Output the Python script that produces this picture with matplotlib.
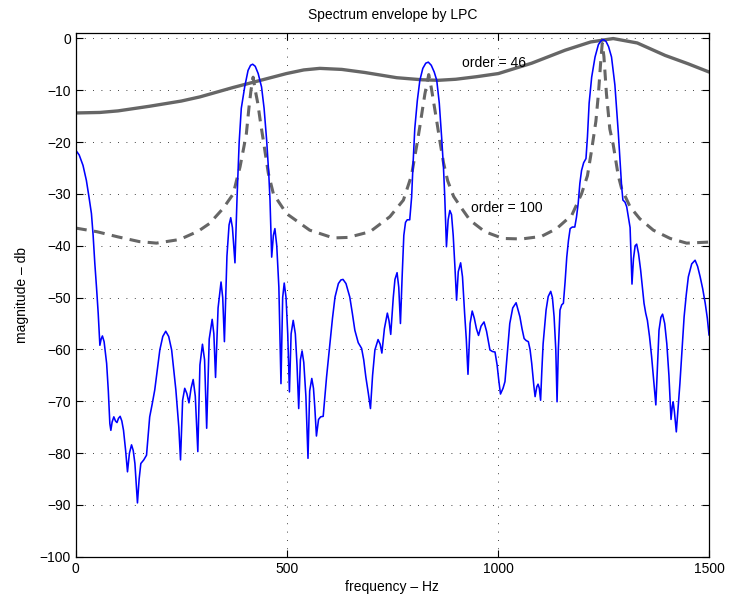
import numpy as np
import matplotlib
matplotlib.use("Agg")
import matplotlib.pyplot as plt

plt.rcParams['font.family'] = ['Liberation Sans', 'DejaVu Sans']

# spectrum (blue)
freq = [0, 8, 17, 25, 31, 37, 41, 45, 49, 53, 57, 60, 63, 67, 73, 77, 80.6, 83, 86, 90,
        94, 97.5, 101, 105, 109, 113, 118, 122.4, 127, 132, 136, 140, 146, 150, 154, 161,
        167.5, 171, 175, 181, 187, 193, 199, 206, 213, 220, 227, 237, 244, 248, 253, 258,
        263, 268, 273, 278, 283, 289, 294, 300, 305, 310, 316, 323, 327, 331, 337, 344,
        348, 352, 358, 363, 367, 371, 377, 382, 387, 392, 400, 408, 414, 419, 425, 432,
        440, 446, 452, 457, 460, 464, 468, 471.6, 476, 481, 486, 490, 493.7, 498, 502,
        506, 510, 515, 520, 524, 528, 532, 536, 540, 545, 550, 554, 559, 563, 566, 570,
        575, 580, 586, 590, 594, 602, 608, 614, 622, 628, 633, 640, 649, 655, 661, 669,
        677, 682, 687, 693, 698, 703, 708.5, 716, 721, 725, 731, 738, 742, 746, 752, 756,
        761, 765, 769, 773, 777, 781, 785, 791, 795.5, 799, 803, 809, 815, 822, 829, 835,
        842, 849, 855, 861, 867, 871, 874, 878, 882, 886, 890, 894, 898, 902, 906, 911.6,
        916, 921, 925, 929, 934, 939, 944, 949, 954, 960, 967, 973, 981, 987, 993, 998,
        1002, 1006, 1012, 1016.6, 1022, 1028, 1035, 1043, 1052, 1057, 1062, 1067, 1072,
        1076, 1080, 1085, 1088, 1092, 1095, 1098, 1101, 1104, 1107, 1114, 1119, 1125,
        1129, 1133, 1137, 1140, 1143, 1147, 1151, 1155, 1159, 1163, 1167, 1171, 1176,
        1182, 1186, 1190, 1194, 1198, 1203, 1208.5, 1212, 1216, 1222, 1230, 1238, 1245,
        1250, 1256, 1262, 1269, 1277, 1285, 1290, 1293, 1296, 1301, 1305, 1309, 1313,
        1317.5, 1321, 1325, 1328.6, 1333, 1338, 1342, 1346, 1350, 1354, 1359, 1364, 1369,
        1374, 1378, 1381.5, 1386, 1390, 1395, 1400, 1405, 1410, 1413, 1415, 1418, 1422.5,
        1427, 1431, 1436, 1441, 1446, 1451, 1459, 1467, 1473, 1479, 1485, 1491, 1496, 1500]
mag = [-21.6, -22.5, -24.5, -27.4, -30.5, -33.8, -38, -43.4, -48, -53, -59.2, -58, -57.4,
       -58.5, -62.7, -68, -74.3, -75.6, -74, -73, -73.8, -74.1, -73.3, -72.9, -73.8, -75.6,
       -79.5, -83.6, -80, -78.4, -79.5, -82, -89.6, -85, -82, -81.3, -80.4, -77, -73, -70.5,
       -67.8, -64, -60.1, -57.5, -56.5, -57.5, -60.1, -67.8, -75, -81.3, -69.8, -67.5, -68.5,
       -70.3, -67.5, -65.8, -69, -79.7, -63, -59, -62, -75.2, -58, -54.2, -57, -65.4, -52,
       -47, -50, -58.5, -42, -36, -34.6, -36.5, -43.3, -30.6, -20, -13.5, -9.4, -6.2, -5.2,
       -5.0, -5.4, -6.8, -9.4, -13.5, -19.6, -26, -31.2, -42.2, -38, -36.7, -40, -48, -66.6,
       -50, -47.2, -50, -57, -68.2, -57, -54.4, -57, -63, -71.4, -62, -60.3, -62.5, -69, -81,
       -68, -65.6, -67.5, -71, -76.7, -73.5, -73, -72.9, -69, -65.3, -58.9, -54, -49.9,
       -47.3, -46.6, -46.5, -47.3, -49.9, -53, -56.3, -58.7, -59.8, -62, -65.3, -68.5, -71.4,
       -65, -60.1, -58.1, -59, -60.7, -56, -53, -54.5, -57.1, -50, -46.5, -45.2, -48, -55,
       -46, -38, -35.5, -35, -35, -30.6, -24, -17.4, -12, -8.1, -5.8, -4.8, -4.6, -5.2, -6.5,
       -8.1, -12.5, -19.6, -25, -30.6, -40.2, -35, -33.2, -34, -38, -44, -50.5, -45, -43.3,
       -46, -53, -58, -64.8, -55, -52.6, -54, -56, -57.3, -55.5, -54.7, -56.5, -60.1, -60.4,
       -60.5, -63, -66, -68.6, -67.5, -66.2, -61, -55, -52, -51, -53.7, -56, -57.9, -58.3,
       -58.5, -60, -62.7, -67, -69.1, -67.2, -66.7, -67.5, -69.8, -64, -58.9, -52.4, -49.8,
       -48.8, -50, -53.7, -60, -70.1, -60, -52.4, -51.4, -51.1, -47, -42.2, -39, -36.7,
       -36.4, -36.4, -34.5, -31.9, -28, -25.5, -24, -23.2, -19, -12.5, -7.5, -3.6, -1.2,
       -0.4, -0.25, -0.6, -1.6, -3.6, -9, -18.1, -24.5, -28.6, -31.2, -31.6, -32.5, -34.5,
       -36.5, -47.4, -42.5, -40, -39.7, -41.5, -44.7, -48, -51.1, -53, -54.4, -57.5, -61.4,
       -66, -70.7, -63, -56.3, -53.8, -53.2, -55, -58.9, -65, -73.5, -71, -70.1, -72, -75.9,
       -71, -66.6, -60, -53.7, -49.5, -46, -43.5, -42.8, -44, -46, -48.3, -51.1, -54, -57.2]

# LPC envelope, order 46 (solid grey)
f46 = [0, 57, 100, 175, 250, 294, 372, 452, 499, 540, 578, 630, 685, 760, 820, 859, 900,
       950, 1001, 1080, 1159, 1220, 1273, 1330, 1396, 1450, 1500]
m46 = [-14.4, -14.3, -14.0, -13.1, -12.1, -11.3, -9.5, -7.8, -6.8, -6.1, -5.8, -6.0, -6.6,
       -7.6, -8.0, -8.1, -7.9, -7.4, -6.8, -4.8, -2.3, -0.7, -0.05, -0.9, -3.3, -4.9, -6.5]

# LPC envelope, order 100 (dashed grey)
f100 = [0, 50, 100, 150, 191, 246, 290, 317, 349, 373, 382, 389, 398, 404, 410, 415, 420,
        425, 431, 438, 444, 456, 468, 499, 554, 610, 645, 697, 744, 776, 795, 808, 815, 821,
        827, 836, 842, 847, 855, 862, 871, 881, 895, 914, 934, 969, 1012, 1056, 1103, 1139,
        1175, 1198, 1212, 1222, 1232, 1238, 1243, 1247, 1251, 1257, 1265, 1273, 1285, 1293,
        1313, 1336, 1368, 1408, 1447, 1500]
m100 = [-36.6, -37.3, -38.3, -39.2, -39.5, -38.8, -37.2, -35.7, -32.8, -30, -27, -24.8,
        -21, -18.4, -13.5, -10, -7.5, -10, -12.5, -16.5, -19.6, -26, -30, -33.8, -37, -38.5,
        -38.4, -37.3, -34.4, -31.2, -26.5, -20.5, -17, -13.8, -10.7, -7, -9.5, -12, -16,
        -19.6, -24, -27.5, -30.5, -32.8, -35.1, -37.3, -38.6, -38.7, -38.2, -36.7, -34.1,
        -30, -26.5, -21.5, -16, -10.7, -5, -1, -3.5, -10.7, -17.5, -20.5, -26.5, -29, -32.5,
        -34.8, -37, -38.6, -39.5, -39.3]

fig = plt.figure(figsize=(7.29, 6.02), dpi=100)
ax = fig.add_axes([0.104, 0.075, 0.8686, 0.87])

ax.plot(f46, m46, color='#666666', lw=2.4, solid_capstyle='round')
ax.plot(f100, m100, color='#666666', lw=2.2, linestyle=(0, (3.6, 2.4)))
ax.plot(freq, mag, color='#0000ff', lw=1.15)

ax.text(914, -4.8, 'order = 46', fontsize=10, va='center')
ax.text(936, -32.8, 'order = 100', fontsize=10, va='center')

ax.set_xlim(0, 1500)
ax.set_ylim(-100, 1)
ax.set_xticks([0, 500, 1000, 1500])
ax.set_yticks(np.arange(-100, 1, 10))
ax.grid(True, color='black', lw=0.6, linestyle=(0, (1, 9)))
ax.tick_params(direction='in', length=5, top=True, right=True, labelsize=10, width=0.8)
for sp in ax.spines.values():
    sp.set_linewidth(0.9)

ax.set_title('Spectrum envelope by LPC', fontsize=10, pad=10)
ax.set_xlabel('frequency \u2013 Hz', fontsize=10, labelpad=3)
ax.set_ylabel('magnitude \u2013 db', fontsize=10, labelpad=8)

fig.savefig('out.png', dpi=100)
